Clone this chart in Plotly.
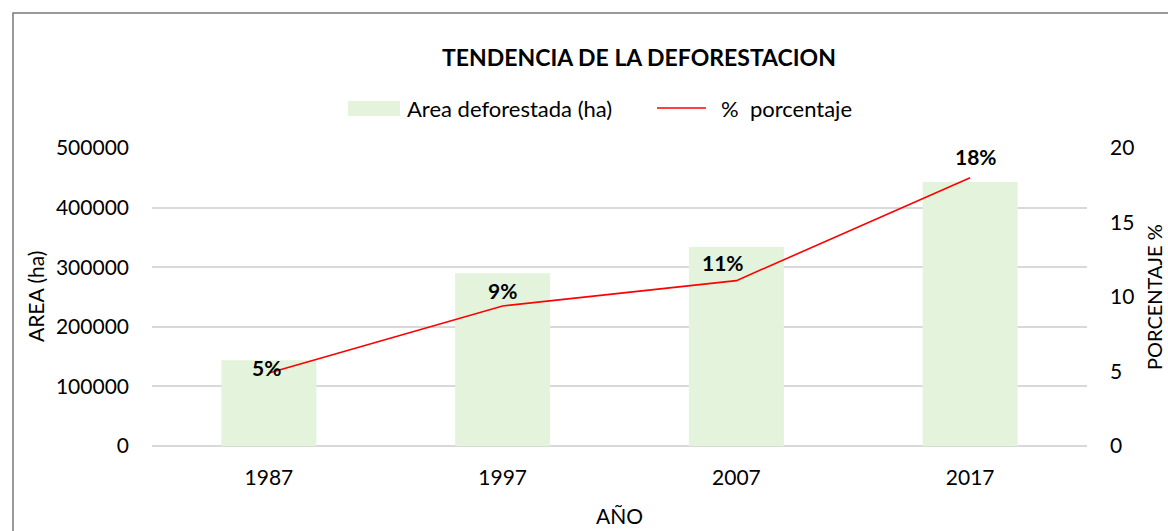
import plotly.graph_objects as go

# Deforestation trend data
years = ["1987", "1997", "2007", "2017"]
area_ha = [144000, 290000, 334000, 443000]
pct = [4.9, 9.4, 11.1, 18.0]

W, H = 1168, 531
L, R, T, B = 152, 1087, 148, 446
FONT = "Lato"

# per-label nudges for the percentage labels (pixels)
label_dx = [-2, 0, -13, 6]
label_dy = [5, 15, 18, 21]


def px(x):
    return (x - L) / (R - L)


def py(y):
    return (B - y) / (B - T)


fig = go.Figure()

fig.add_trace(go.Bar(
    x=years, y=area_ha, name="Area deforestada (ha)",
    marker=dict(color="#e4f4dc", line=dict(width=0)),
    showlegend=False, yaxis="y",
))

fig.add_trace(go.Scatter(
    x=years, y=pct, name="%  porcentaje", yaxis="y2",
    mode="lines",
    line=dict(color="#ff0000", width=1.6),
    showlegend=False, cliponaxis=False,
))

shapes = [
    # chart frame
    dict(type="rect", xref="paper", yref="paper",
         x0=px(13), x1=px(1300), y0=py(13), y1=py(700),
         line=dict(color="#7a7a7a", width=1.5), fillcolor="rgba(0,0,0,0)", layer="below"),
    # legend glyphs
    dict(type="rect", xref="paper", yref="paper",
         x0=px(348), x1=px(400), y0=py(116), y1=py(101),
         line=dict(width=0), fillcolor="#e4f4dc"),
    dict(type="line", xref="paper", yref="paper",
         x0=px(657), x1=px(706), y0=py(108), y1=py(108),
         line=dict(color="#ff0000", width=1.6)),
]

txt = dict(family=FONT, size=21, color="#000000")

annotations = [
    # legend texts
    dict(text="Area deforestada (ha)", xref="paper", yref="paper",
         x=px(405), y=py(108), xanchor="left", yanchor="middle", showarrow=False,
         font=dict(family=FONT, size=22, color="#000000")),
    dict(text="%\u00a0 porcentaje", xref="paper", yref="paper",
         x=px(719), y=py(108), xanchor="left", yanchor="middle", showarrow=False,
         font=dict(family=FONT, size=22, color="#000000")),
    # axis titles
    dict(text="AREA (ha)", xref="paper", yref="paper", x=px(35), y=py(297),
         xanchor="center", yanchor="middle", textangle=-90, showarrow=False, font=txt),
    dict(text="PORCENTAJE %", xref="paper", yref="paper", x=px(1154), y=py(297),
         xanchor="center", yanchor="middle", textangle=-90, showarrow=False,
         borderpad=0, font=dict(family=FONT, size=20, color="#000000")),
    dict(text="AÑO", xref="paper", yref="paper", x=px(619), y=py(515),
         xanchor="center", yanchor="middle", showarrow=False, font=txt),
]

# percentage data labels, one per point of the line (category index on x)
for i, (v, dx, dy) in enumerate(zip(pct, label_dx, label_dy)):
    annotations.append(dict(
        x=i, y=v, xref="x", yref="y2", text=f"{v:.0f}%",
        showarrow=False, xanchor="center", yanchor="middle",
        xshift=dx, yshift=dy,
        font=dict(family=FONT, size=21, color="#000000", weight="bold"),
    ))

fig.update_layout(
    width=W, height=H,
    margin=dict(l=L, r=W - R, t=T, b=H - B, pad=0, autoexpand=False),
    paper_bgcolor="white", plot_bgcolor="white",
    font=txt,
    title=dict(text="<b>TENDENCIA DE LA DEFORESTACION</b>",
               xref="container", yref="container",
               x=639 / W, y=1 - 58 / H, xanchor="center", yanchor="middle",
               font=dict(family=FONT, size=23, color="#000000")),
    bargap=1 - 95 / 233.75,
    showlegend=False,
    shapes=shapes,
    annotations=annotations,
    xaxis=dict(
        type="category", range=[-0.5, len(years) - 0.5], automargin=False,
        showgrid=False, zeroline=False, showline=False,
        ticks="", ticklabelstandoff=17, tickfont=txt,
    ),
    yaxis=dict(
        range=[0, 500000], dtick=100000, tickformat="d", automargin=False,
        showgrid=True, gridcolor="#d9d9d9", gridwidth=1.8,
        zeroline=True, zerolinecolor="#d9d9d9", zerolinewidth=1.8,
        showline=False, ticks="", ticklabelstandoff=22, tickfont=txt,
    ),
    yaxis2=dict(
        range=[0, 20], dtick=5, overlaying="y", side="right", automargin=False,
        showgrid=False, zeroline=False, showline=False, ticks="",
        ticklabelstandoff=22, tickfont=txt,
    ),
)

fig.write_html("out.html", config={"responsive": False, "displayModeBar": False})
